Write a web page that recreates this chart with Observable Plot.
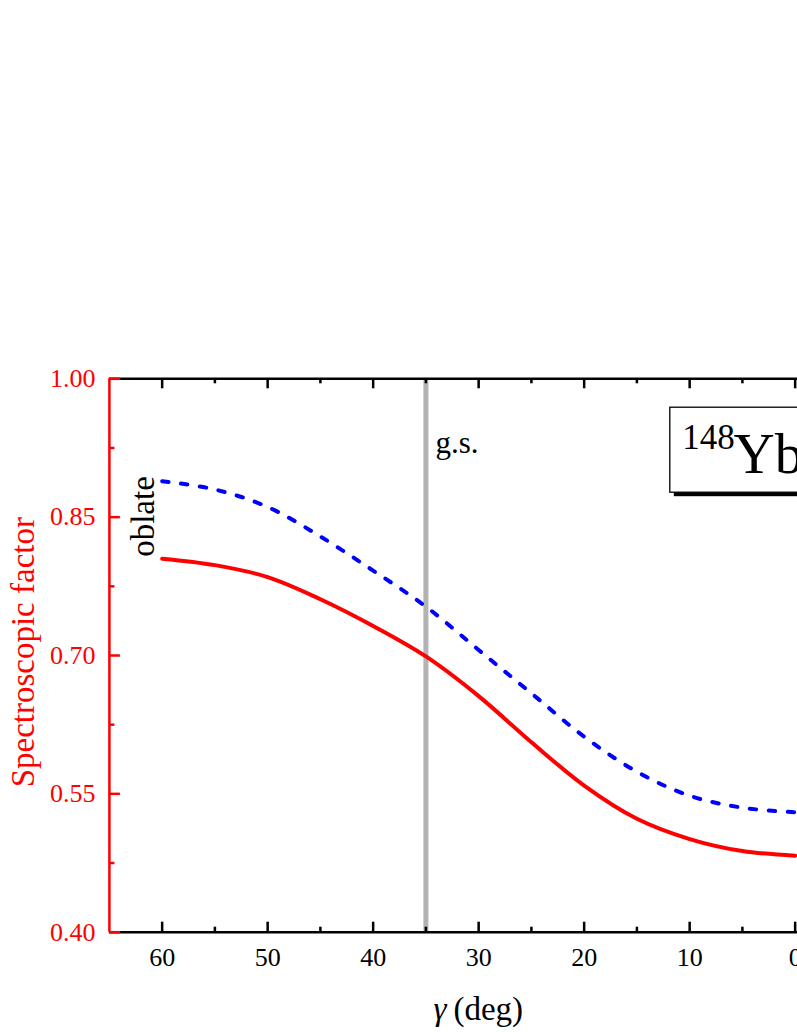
<!DOCTYPE html>
<html><head><meta charset="utf-8">
<script src="https://cdn.jsdelivr.net/npm/d3@7"></script>
<script src="https://cdn.jsdelivr.net/npm/@observablehq/plot@0.6"></script>
<style>
html,body{margin:0;padding:0;background:#fff;overflow:hidden;width:797px;height:1032px;}
#chart svg{max-width:none !important;display:block;}
#chart svg text{font-family:"Liberation Serif","Times New Roman",Times,serif;}
</style></head><body><div id="chart"></div>
<script>
// ---- data ----
const gamma    = [60, 55, 50, 45, 40, 35, 30, 25, 20, 15, 10, 5, 0];
const sfSolid  = [0.805, 0.798, 0.785, 0.761, 0.732, 0.699, 0.656, 0.606, 0.559, 0.523, 0.501, 0.488, 0.483];
const sfDashed = [0.889, 0.880, 0.861, 0.829, 0.792, 0.753, 0.706, 0.659, 0.612, 0.574, 0.548, 0.535, 0.530];
const gsGamma = 35;
const xDomain = [65, -5];
const yDomain = [0.40, 1.00];
const xMajor = [60, 50, 40, 30, 20, 10, 0];
const xMinor = [55, 45, 35, 25, 15, 5];
const yMajor = [0.40, 0.55, 0.70, 0.85, 1.00];
const yMinor = [0.475, 0.625, 0.775, 0.925];
const yLabel = "Spectroscopic factor";
const xLabelSym = "γ";
const xLabelUnit = "(deg)";
const gsText = "g.s.";
const oblateText = "oblate";
const massNumber = "148";
const element = "Yb";

// ---- style ----
const serif = '"Liberation Serif","Times New Roman",Times,serif';
const RED = "#ff0000", BLUE = "#0000ff", BLACK = "#000000", GRAY = "#b3b3b3";
const AX = 2.5;

const rows = gamma.map((g, i) => ({g, solid: sfSolid[i], dashed: sfDashed[i]}));

const plot = Plot.plot({
  width: 900, height: 1032,
  marginLeft: 108.9, marginRight: 52.6, marginTop: 378.3, marginBottom: 100.3,
  x: {domain: xDomain},
  y: {domain: yDomain},
  style: {fontFamily: serif, background: "white", color: BLACK},
  marks: [
    Plot.ruleX([gsGamma], {x: d => d, stroke: GRAY, strokeWidth: 5}),
    Plot.line(rows, {x: "g", y: "dashed", stroke: BLUE, strokeWidth: 4, strokeDasharray: "6.5,12.5", strokeLinecap: "round", curve: "catmull-rom"}),
    Plot.line(rows, {x: "g", y: "solid", stroke: RED, strokeWidth: 4, curve: "catmull-rom"}),
    // frame lines
    Plot.ruleY([yDomain[0]], {y: d => d, stroke: BLACK, strokeWidth: AX}),
    Plot.ruleY([yDomain[1]], {y: d => d, stroke: BLACK, strokeWidth: AX}),
    Plot.ruleX([xDomain[1]], {x: d => d, stroke: BLACK, strokeWidth: AX}),
    // bottom ticks (inward)
    Plot.ruleX(xMajor, {x: d => d, y1: yDomain[0], y2: yDomain[0], insetBottom: 10, stroke: BLACK, strokeWidth: AX}),
    Plot.ruleX(xMinor, {x: d => d, y1: yDomain[0], y2: yDomain[0], insetBottom: 5, stroke: BLACK, strokeWidth: AX}),
    // top ticks (inward)
    Plot.ruleX(xMajor, {x: d => d, y1: yDomain[1], y2: yDomain[1], insetBottom: -10, stroke: BLACK, strokeWidth: AX}),
    Plot.ruleX(xMinor, {x: d => d, y1: yDomain[1], y2: yDomain[1], insetBottom: -5, stroke: BLACK, strokeWidth: AX}),
    // left axis (red)
    Plot.ruleX([xDomain[0]], {x: d => d, stroke: RED, strokeWidth: AX}),
    Plot.ruleY(yMajor, {y: d => d, x1: xDomain[0], x2: xDomain[0], insetRight: -11, stroke: RED, strokeWidth: AX}),
    Plot.ruleY(yMinor, {y: d => d, x1: xDomain[0], x2: xDomain[0], insetRight: -5.5, stroke: RED, strokeWidth: AX}),
    // tick labels
    Plot.axisY(yMajor, {anchor: "left", tickSize: 0, tickPadding: 14, tickFormat: d3.format(".2f"), fontSize: 26, fontFamily: serif, fontVariant: "normal", color: RED, label: null}),
    Plot.axisX(xMajor, {anchor: "bottom", tickSize: 0, tickPadding: 15.5, tickFormat: d3.format("d"), fontSize: 26, fontFamily: serif, fontVariant: "normal", color: BLACK, label: null}),
    // axis titles
    Plot.text([yLabel], {text: d => d, frameAnchor: "left", dx: -75.9, dy: -3.3, rotate: -90, textAnchor: "middle", lineAnchor: "bottom", fontSize: 33, fontFamily: serif, fill: RED}),
    Plot.text([xLabelSym], {text: d => d, frameAnchor: "bottom", dx: -45.2, dy: 87.3, textAnchor: "start", lineAnchor: "bottom", fontSize: 33, fontFamily: serif, fontStyle: "italic", fill: BLACK}),
    Plot.text([xLabelUnit], {text: d => d, frameAnchor: "bottom", dx: -25.2, dy: 87.3, textAnchor: "start", lineAnchor: "bottom", fontSize: 33, fontFamily: serif, fill: BLACK}),
    // annotations
    Plot.text([gsText], {text: d => d, frameAnchor: "top-left", dx: 326.1, dy: 73.7, textAnchor: "start", lineAnchor: "bottom", fontSize: 31, fontFamily: serif, fill: BLACK}),
    Plot.text([oblateText], {text: d => d, frameAnchor: "top-left", dx: 44.1, dy: 137.7, rotate: -90, textAnchor: "middle", lineAnchor: "bottom", fontSize: 33, fontFamily: serif, fill: BLACK}),
    // nucleus label box
    Plot.frame({insetLeft: 564.4, insetTop: 32.4, insetBottom: 436.0, insetRight: 13.4, fill: BLACK, stroke: null}),
    Plot.frame({insetLeft: 560.4, insetTop: 28.4, insetBottom: 440.0, insetRight: 17.4, fill: "white", stroke: BLACK, strokeWidth: 1.3}),
    Plot.text([massNumber], {text: d => d, frameAnchor: "top-left", dx: 572.8, dy: 70, textAnchor: "start", lineAnchor: "bottom", fontSize: 35, fontFamily: serif, fill: BLACK}),
    Plot.text([element], {text: d => d, frameAnchor: "top-left", dx: 624.1, dy: 94, textAnchor: "start", lineAnchor: "bottom", fontSize: 57, fontFamily: serif, fill: BLACK})
  ]
});
document.getElementById("chart").appendChild(plot);
</script>
</body></html>
